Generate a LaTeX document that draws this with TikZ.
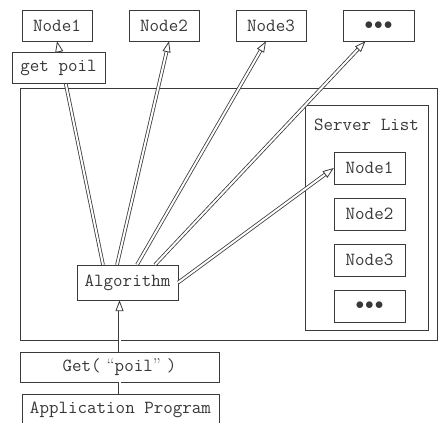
\documentclass[tikz,border=0pt]{standalone}
\usepackage{fontspec}
\usetikzlibrary{arrows.meta}

\definecolor{linegray}{HTML}{3A3A3A}
\definecolor{textgray}{HTML}{383838}

\tikzset{
  box/.style={draw=linegray, fill=white, text=textgray, inner sep=0pt,
    font=\ttfamily\fontsize{18.5}{20}\selectfont, minimum width=#1},
  box/.default=70pt,
  dbl/.style={draw=linegray, double=white, double distance=2pt, line width=0.8pt},
  dblarrow/.style={dbl, -{Triangle[open, length=11pt, width=8pt]}}
}

\begin{document}
\begin{tikzpicture}[x=1pt, y=-1pt]
  \useasboundingbox (0,0) rectangle (438,422);
  % frames
  \draw[linegray, line width=0.8pt] (20,88) rectangle (437,340);
  \draw[linegray, line width=0.8pt] (305,105) rectangle (428,330);
  \node[text=textgray, font=\ttfamily\fontsize{18.5}{20}\selectfont] (srvlist) at (366.5,125) {Server List};

  % cache nodes on top
  \node[box, minimum height=31pt] (t1) at (57,25.5) {Node1};
  \node[box, minimum height=31pt] (t2) at (164,25.5) {Node2};
  \node[box, minimum height=31pt] (t3) at (271,25.5) {Node3};
  \node[box=71pt, minimum height=31pt] (t4) at (378.5,25.5) {$\bullet\!\bullet\!\bullet$};

  % server list
  \node[box=71pt, minimum height=32pt] (s1) at (369.5,168) {Node1};
  \node[box=71pt, minimum height=32pt] (s2) at (369.5,214) {Node2};
  \node[box=71pt, minimum height=32pt] (s3) at (369.5,260) {Node3};
  \node[box=71pt, minimum height=32pt] (s4) at (369.5,306) {$\bullet\!\bullet\!\bullet$};

  \node[box=101pt, minimum height=35pt] (alg) at (127.5,282.5) {Algorithm};
  \node[box=199pt, minimum height=30pt] (get) at (119.5,367)
    {Get(\hspace{6pt}{\rmfamily“}poil{\rmfamily”}\hspace{6pt})};
  \node[box=197pt, minimum height=32pt] (app) at (120.5,410) {Application Program};

  \path
    ([xshift=-24.5pt]alg.north) edge[dblarrow] (t1.south)
    ([xshift=-10.5pt]alg.north) edge[dblarrow] ([xshift=5pt]t2.south)
    ([xshift=9.5pt]alg.north) edge[dblarrow] ([xshift=-5pt]t3.south)
    ([xshift=27.5pt]alg.north) edge[dblarrow] ([xshift=-13pt]t4.south)
    (alg.east) edge[dblarrow] (s1.west)
    (get.north) edge[dblarrow] (get.north |- alg.south);
  \draw[dbl] (get.south) -- (get.south |- app.north);

  \node[box=93pt, minimum height=31pt] (getpoil) at (58.5,67.5) {get poil};
\end{tikzpicture}
\end{document}
